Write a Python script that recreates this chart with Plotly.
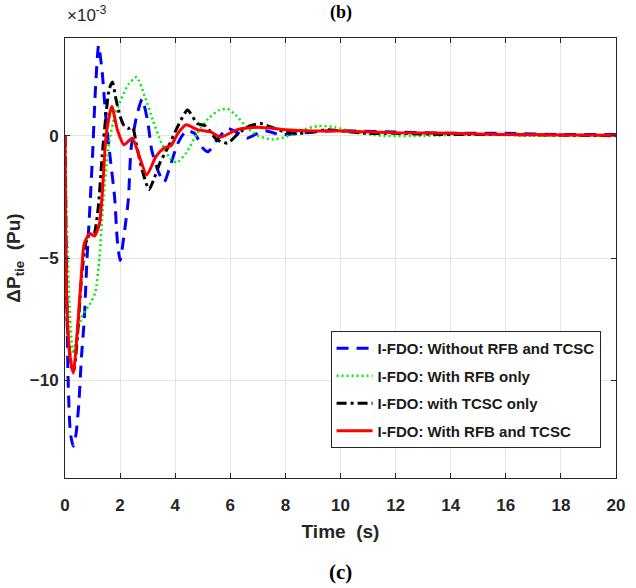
import plotly.graph_objects as go

# Values in units of 1e-3 pu
t_blue = [0, 0.03, 0.07, 0.12, 0.2, 0.3, 0.4, 0.5, 0.6, 0.7, 0.8, 0.9, 1.0, 1.1, 1.22, 1.35, 1.5, 1.65, 1.8, 1.9, 2.0,
          2.15, 2.3, 2.4, 2.6, 2.8, 3.0, 3.15, 3.4, 3.6, 3.8, 4.1, 4.4, 4.7, 5.0, 5.2, 5.5, 5.9, 6.3, 6.6, 7.0, 7.3,
          7.8, 8.5, 9.5, 10.5, 12, 14, 16, 18, 20]
y_blue = [0, -3, -7, -10.3, -12.2, -12.7, -12.2, -11, -9, -7.5, -5, -3, -0.8, 1.8, 3.7, 2.6, 0.5, -1.0, -2.5, -4.3, -5.1,
          -4.0, -2.6, -0.5, 0.8, 1.5, 0.6, -0.6, -1.5, -1.9, -1.3, -0.3, 0.2, 0.1, -0.5, -0.65, -0.2, 0.3, 0.1, -0.1, 0.1, 0.2,
          0.05, 0.1, 0.2, 0.2, 0.15, 0.1, 0.1, 0.05, 0.05]

t_green = [0, 0.05, 0.1, 0.2, 0.3, 0.45, 0.65, 0.9, 1.1, 1.25, 1.4, 1.6, 1.8, 2.0, 2.3, 2.6, 2.9, 3.2, 3.5, 3.8, 4.05,
           4.4, 4.8, 5.2, 5.6, 5.9, 6.2, 6.6, 7.0, 7.5, 8.0, 8.5, 9.2, 9.8, 10.5, 11.5, 13, 15, 17, 20]
y_green = [0, -2.5, -5, -7.8, -8.9, -8.0, -7.3, -6.9, -6.4, -5.0, -2.5, -0.3, 0.8, 1.4, 2.1, 2.4, 1.6, 0.6, -0.3, -0.9, -1.1,
           -0.7, 0.1, 0.7, 1.05, 1.1, 0.85, 0.35, 0.0, -0.15, -0.05, 0.2, 0.4, 0.35, 0.15, 0.0, 0.0, 0.05, 0.0, 0.0]

t_black = [0, 0.02, 0.1, 0.25, 0.32, 0.45, 0.6, 0.75, 0.9, 1.05, 1.2, 1.35, 1.5, 1.6, 1.72, 1.85, 2.0, 2.15, 2.3, 2.45,
           2.6, 2.8, 3.05, 3.25, 3.45, 3.75, 4.1, 4.45, 4.8, 5.1, 5.5, 5.9, 6.3, 6.7, 7.1, 7.5, 8.0, 8.5, 9.0, 9.5, 10,
           11, 12, 14, 16, 20]
y_black = [0, -4, -8, -9.5, -9.6, -8.2, -5.8, -4.4, -4.0, -4.0, -3.0, -0.8, 1.0, 1.9, 2.2, 1.5, 0.8, 0.4, 0.3, 0.35,
           -0.4, -1.4, -2.2, -1.7, -1.1, -0.45, 0.4, 1.05, 0.5, 0.4, -0.15, -0.3, 0.1, 0.4, 0.5, 0.35, 0.15, 0.1, 0.15, 0.25, 0.2,
           0.1, 0.1, 0.05, 0.05, 0.0]

t_red = [0, 0.02, 0.07, 0.18, 0.3, 0.42, 0.6, 0.7, 0.9, 1.07, 1.25, 1.35, 1.5, 1.7, 1.9, 2.14, 2.44, 2.7, 2.97, 3.3, 3.6,
         3.85, 4.1, 4.4, 4.8, 5.3, 5.65, 6.25, 7.0, 8, 9, 10, 12, 14, 16, 18, 20]
y_red = [0, -3.5, -7, -9, -9.7, -8.4, -5.6, -4.4, -4.0, -4.1, -3.6, -2.4, 0.1, 1.2, 0.25, -0.37, -0.1, -0.85, -1.6, -0.85, -0.5,
         -0.4, 0.1, 0.45, 0.25, 0.15, -0.05, 0.25, 0.35, 0.25, 0.2, 0.2, 0.12, 0.1, 0.05, 0.03, 0.02]

names = ["I-FDO: Without RFB and TCSC", "I-FDO: With RFB only",
         "I-FDO: with TCSC only", "I-FDO: With RFB and TCSC"]
x_ticks = list(range(0, 21, 2))
y_ticks = [-10, -5, 0]

SANS = "Liberation Sans, Arial, sans-serif"

fig = go.Figure()
fig.add_trace(go.Scatter(x=t_blue, y=y_blue, mode="lines", name=names[0], legendgroup="a",
                         line=dict(color="#0000ff", width=3, dash="12px,8px", shape="spline", smoothing=0.6)))
fig.add_trace(go.Scatter(x=t_green, y=y_green, mode="lines", name=names[1], legendgroup="b",
                         line=dict(color="#00ee00", width=2.5, dash="2px,3px", shape="spline", smoothing=0.6)))
fig.add_trace(go.Scatter(x=t_black, y=y_black, mode="lines", name=names[2], legendgroup="c",
                         line=dict(color="#000000", width=3, dash="10px,4px,3px,4px", shape="spline", smoothing=0.6)))
fig.add_trace(go.Scatter(x=t_red, y=y_red, mode="lines", name=names[3], legendgroup="d",
                         line=dict(color="#ff0000", width=3, shape="spline", smoothing=0.6)))

tickfont = dict(family=SANS, size=17, color="#262626", weight="bold")
fig.update_layout(
    width=636, height=588,
    margin=dict(l=65, r=11, t=38, b=110),
    paper_bgcolor="white", plot_bgcolor="white",
    showlegend=True,
    legend=dict(x=0.482, y=0.334, xanchor="left", yanchor="top",
                bgcolor="white", bordercolor="#262626", borderwidth=1,
                font=dict(family=SANS, size=15, color="#1a1a1a", weight="bold"),
                itemwidth=36, tracegroupgap=5),
    xaxis=dict(range=[0, 20], tickvals=x_ticks, ticks="inside", ticklen=5, tickcolor="#262626",
               showgrid=True, gridcolor="#e3e3e3", gridwidth=1, zeroline=False,
               showline=True, linecolor="#262626", linewidth=1, mirror="ticks",
               tickfont=tickfont, ticklabelstandoff=12,
               title=dict(text="Time  (s)", font=dict(family=SANS, size=19, color="#262626", weight="bold"), standoff=10)),
    yaxis=dict(range=[-14, 4], tickvals=y_ticks, ticks="inside", ticklen=5, tickcolor="#262626",
               showgrid=True, gridcolor="#e3e3e3", gridwidth=1, zeroline=False,
               showline=True, linecolor="#262626", linewidth=1, mirror="ticks",
               tickfont=tickfont, ticklabelstandoff=2,
               title=dict(text="ΔP<sub>tie</sub>  (Pu)", font=dict(family=SANS, size=19, color="#262626", weight="bold"), standoff=4)),
    annotations=[
        dict(text="×10<sup>-3</sup>", x=0, y=1.024, xref="paper", yref="paper", xanchor="left", yanchor="bottom",
             showarrow=False, font=dict(family=SANS, size=17, color="#262626")),
        dict(text="<b>(b)</b>", x=0.5, y=1.057, xref="paper", yref="paper", xanchor="center", yanchor="middle",
             showarrow=False, font=dict(family="Liberation Serif", size=18, color="black")),
        dict(text="<b>(c)</b>", x=0.5, y=-0.214, xref="paper", yref="paper", xanchor="center", yanchor="middle",
             showarrow=False, font=dict(family="Liberation Serif", size=21, color="black")),
    ],
)
fig.write_html("out.html")
